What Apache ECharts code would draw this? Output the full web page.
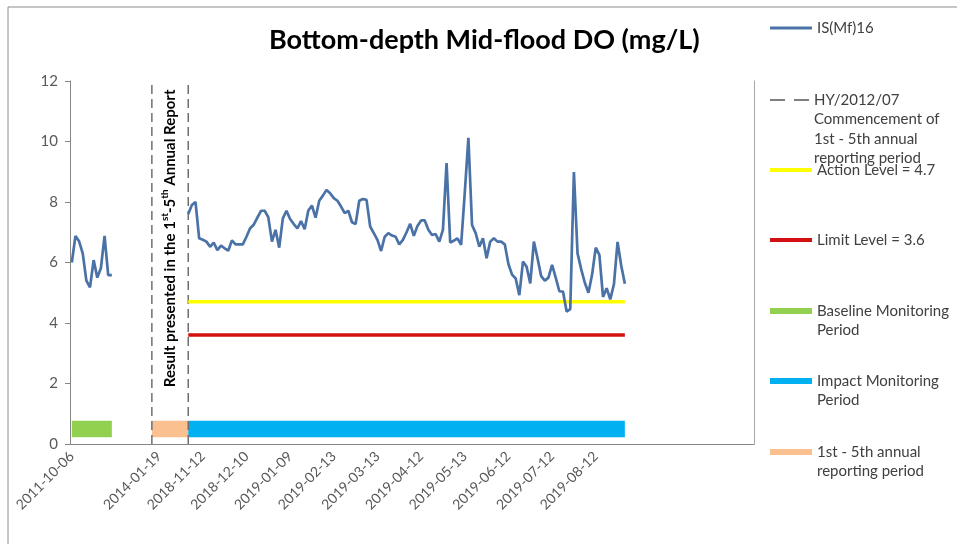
<!DOCTYPE html>
<html>
<head>
<meta charset="utf-8">
<script src="https://cdn.jsdelivr.net/npm/echarts@6/dist/echarts.min.js"></script>
<style>html,body{margin:0;padding:0;background:#fff;}#c{width:957px;height:544px;}</style>
</head>
<body>
<div id="c"></div>
<script>
// ---- data ----
const categoryCount = 188;
const tickLabels = ['2011-10-06', '', '2014-01-19', '2018-11-12', '2018-12-10', '2019-01-09', '2019-02-13',
  '2019-03-13', '2019-04-12', '2019-05-13', '2019-06-12', '2019-07-12', '2019-08-12', '', '', ''];
const baselineStart = 0;
const baselineValues = [6.0, 6.88, 6.7, 6.3, 5.4, 5.18, 6.08, 5.5, 5.82, 6.88, 5.58, 5.58];
const impactStart = 32;
const impactValues = [
  7.6, 7.9, 8.0, 6.8, 6.75, 6.69, 6.52, 6.66, 6.41, 6.56, 6.47, 6.39, 6.73, 6.6, 6.6, 6.6, 6.85, 7.13, 7.25, 7.48,
  7.71, 7.71, 7.5, 6.69, 7.08, 6.49, 7.46, 7.71, 7.44, 7.27, 7.13,
  7.37, 7.1, 7.72, 7.88, 7.48, 8.04, 8.21, 8.4, 8.29, 8.13, 8.04, 7.85, 7.63, 7.71, 7.33, 7.27, 8.04, 8.1, 8.07, 7.19,
  6.97, 6.75, 6.38, 6.85, 6.97, 6.89, 6.85, 6.6, 6.75, 7.0,
  7.28, 6.88, 7.21, 7.39, 7.39, 7.08, 6.91, 6.94, 6.69, 7.08, 9.29, 6.66, 6.72, 6.8, 6.58, 8.3, 10.12, 7.24, 6.97, 6.52,
  6.8, 6.14, 6.69, 6.8, 6.69, 6.69, 6.6, 5.95,
  5.6, 5.47, 4.92, 6.03, 5.86, 5.31, 6.69, 6.14, 5.55, 5.4, 5.5, 5.92, 5.5, 5.05, 5.04, 4.38, 4.46, 8.99, 6.3, 5.78,
  5.33, 5.0, 5.6, 6.49, 6.25, 4.86, 5.15, 4.78, 5.28, 6.68, 5.9, 5.3
];
const impactEnd = impactStart + impactValues.length - 1;
const baselineEnd = baselineStart + baselineValues.length - 1;
const reportStart = 22;
const reportEnd = 32;
const actionLevel = 4.7;
const limitLevel = 3.6;
const bandLevel = 0.5;
const yTicks = { min: 0, max: 12, interval: 2 };

const names = {
  main: 'IS(Mf)16',
  hy: 'HY/2012/07\nCommencement of\n1st - 5th annual\nreporting period',
  action: 'Action Level = 4.7',
  limit: 'Limit Level = 3.6',
  baseline: 'Baseline Monitoring\nPeriod',
  impact: 'Impact Monitoring\nPeriod',
  report: '1st - 5th annual\nreporting period'
};

// ---- build ----
const categories = Array.from({ length: categoryCount }, (_, i) => String(i));
const mainData = [];
baselineValues.forEach((v, i) => mainData.push([baselineStart + i, v]));
mainData.push([baselineEnd + 1, '-']);
impactValues.forEach((v, i) => mainData.push([impactStart + i, v]));

const FONT = 'Lato, "Open Sans", sans-serif';
const L = 19.5;
const legendX = 770;
function legendAt(name, iconY, color, h, dashed) {
  const lines = name.split('\n').length;
  const item = { name: name, icon: dashed ? 'path://M0,0h15v2h-15zM24,0h15v2h-15z' : 'rect' };
  return {
    left: legendX,
    top: iconY - (2 * lines - 1) * L / 2,
    padding: 0,
    orient: 'vertical',
    selectedMode: false,
    itemWidth: dashed ? 39 : 42,
    itemHeight: h,
    itemGap: 0,
    data: [item],
    formatter: function (n) { return '\n'.repeat(lines - 1) + n; },
    textStyle: { color: '#404040', fontSize: 15, fontFamily: FONT, lineHeight: L }
  };
}

const chart = echarts.init(document.getElementById('c'), null, { renderer: 'canvas' });
const option = {
  backgroundColor: '#ffffff',
  animation: false,
  title: {
    text: 'Bottom-depth Mid-flood DO (mg/L)',
    left: 269, top: 27, padding: 0,
    textStyle: { fontFamily: FONT, fontWeight: 'bold', fontSize: 27, color: '#000' }
  },
  legend: [
    legendAt(names.main, 28, '#4a72a6', 3, false),
    legendAt(names.hy, 100, '#7f7f7f', 2, true),
    legendAt(names.action, 170, '#ffff00', 4, false),
    legendAt(names.limit, 240, '#d40f0f', 4, false),
    legendAt(names.baseline, 311, '#92d050', 6, false),
    legendAt(names.impact, 381, '#00b0f0', 6, false),
    legendAt(names.report, 452, '#fac090', 6, false)
  ],
  grid: { left: 70, right: 203, top: 81, bottom: 100, containLabel: false },
  xAxis: {
    type: 'category',
    data: categories,
    boundaryGap: true,
    axisLine: { lineStyle: { color: '#868686', width: 1 } },
    axisTick: { interval: 11, length: 5, lineStyle: { color: '#868686' } },
    axisLabel: {
      interval: 11, rotate: 45, margin: 10,
      color: '#595959', fontSize: 14, fontFamily: FONT,
      formatter: function (v, idx) { return idx % 12 === 0 ? (tickLabels[idx / 12] || '') : ''; }
    },
    splitLine: { show: false }
  },
  yAxis: [{
    type: 'value', min: yTicks.min, max: yTicks.max, interval: yTicks.interval,
    axisLine: { show: true, lineStyle: { color: '#868686' } },
    axisTick: { show: true, length: 5, lineStyle: { color: '#868686' } },
    axisLabel: { color: '#595959', fontSize: 15, fontFamily: FONT, margin: 12 },
    splitLine: { show: false }
  }, {
    type: 'value', min: yTicks.min, max: yTicks.max, interval: yTicks.interval, position: 'right',
    axisLine: { show: true, lineStyle: { color: '#a6a6a6' } },
    axisTick: { show: false }, axisLabel: { show: false }, splitLine: { show: false }
  }],
  series: [
    {
      name: names.baseline, type: 'line', symbol: 'none', silent: true, z: 2,
      data: [[baselineStart, bandLevel], [baselineEnd, bandLevel]],
      lineStyle: { color: '#92d050', width: 16.5, cap: 'butt' }, itemStyle: { color: '#92d050' }
    },
    {
      name: names.report, type: 'line', symbol: 'none', silent: true, z: 2,
      data: [[reportStart, bandLevel], [reportEnd, bandLevel]],
      lineStyle: { color: '#fac090', width: 16.5, cap: 'butt' }, itemStyle: { color: '#fac090' }
    },
    {
      name: names.impact, type: 'line', symbol: 'none', silent: true, z: 2,
      data: [[impactStart, bandLevel], [impactEnd, bandLevel]],
      lineStyle: { color: '#00b0f0', width: 16.5, cap: 'butt' }, itemStyle: { color: '#00b0f0' }
    },
    {
      name: names.hy, type: 'line', symbol: 'none', silent: true, z: 3,
      data: [[reportStart, yTicks.min], [reportStart, yTicks.max], [reportStart, '-'],
             [reportEnd, yTicks.min], [reportEnd, yTicks.max]],
      lineStyle: { color: '#6f6f6f', width: 1.5, type: [9, 5] }, itemStyle: { color: '#7f7f7f' }
    },
    {
      name: names.action, type: 'line', symbol: 'none', silent: true, z: 3,
      data: [[impactStart, actionLevel], [impactEnd, actionLevel]],
      lineStyle: { color: '#ffff00', width: 3.5 }, itemStyle: { color: '#ffff00' }
    },
    {
      name: names.limit, type: 'line', symbol: 'none', silent: true, z: 3,
      data: [[impactStart, limitLevel], [impactEnd, limitLevel]],
      lineStyle: { color: '#d40f0f', width: 3.5 }, itemStyle: { color: '#d40f0f' }
    },
    {
      name: names.main, type: 'line', symbol: 'none', silent: true, z: 5,
      data: mainData,
      lineStyle: { color: '#4a72a6', width: 2.7 }, itemStyle: { color: '#4a72a6' }
    }
  ]
};
chart.setOption(option);

// annotation between the two dashed lines
const midCat = (reportStart + reportEnd) / 2;
const tx = chart.convertToPixel({ xAxisIndex: 0 }, midCat);
const ty = chart.convertToPixel({ yAxisIndex: 0 }, 6.8);
chart.setOption({
  graphic: [
    {
      type: 'rect', silent: true,
      shape: { x: 8, y: 7, width: 1200, height: 800 },
      style: { fill: 'none', stroke: '#8c8c8c', lineWidth: 1 }, z: -1
    },
    {
      type: 'text', silent: true,
      x: tx, y: ty, rotation: Math.PI / 2,
      style: {
        text: 'Result presented in the 1{s|st}-5{s|th} Annual Report',
        align: 'center', verticalAlign: 'middle',
        fontFamily: FONT, fontWeight: 'bold', fontSize: 15, fill: '#000', lineHeight: 20,
        rich: { s: { fontFamily: FONT, fontWeight: 'bold', fontSize: 10, verticalAlign: 'top', lineHeight: 11 } }
      }
    }
  ]
});
</script>
</body>
</html>
